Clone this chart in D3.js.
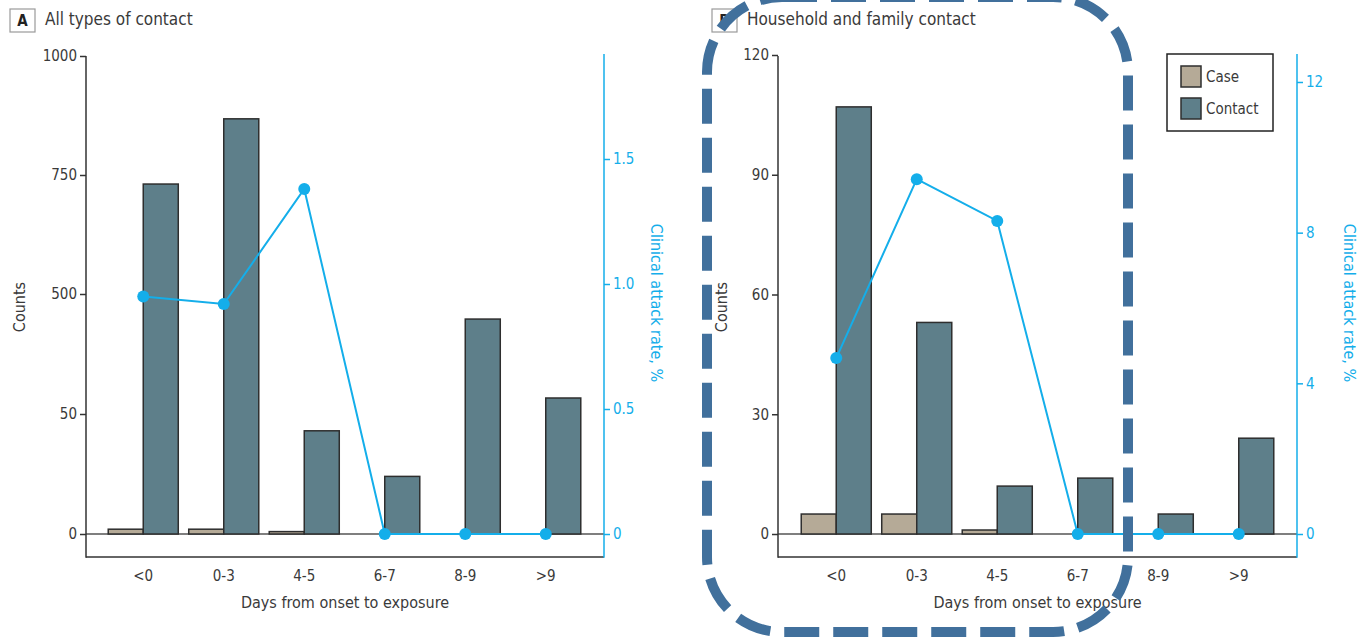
<!DOCTYPE html>
<html>
<head>
<meta charset="utf-8">
<script src="https://cdn.jsdelivr.net/npm/d3@7"></script>
<style>
  html, body { margin: 0; padding: 0; background: #fff; }
  svg { display: block; }
  text { font-family: "Liberation Sans Narrow", "DejaVu Sans Condensed", "Open Sans", sans-serif; }
</style>
</head>
<body>
<svg id="chart" width="1358" height="637"></svg>
<script>
// ---------- data ----------
const categories = ["<0", "0-3", "4-5", "6-7", "8-9", ">9"];
const seriesNames = ["Case", "Contact"];

const caseA = [2, 2, 1, 0, 0, 0];
const contactA = [731, 868, 43, 24, 406, 110];
const rateA = [0.95, 0.92, 1.38, 0, 0, 0];

const caseB = [5, 5, 1, 0, 0, 0];
const contactB = [107, 53, 12, 14, 5, 24];
const rateB = [4.67, 9.42, 8.31, 0, 0, 0];

const countTicksA = [0, 50, 500, 750, 1000];
const rateTicksA = [0, 0.5, 1.0, 1.5];
const countTicksB = [0, 30, 60, 90, 120];
const rateTicksB = [0, 4, 8, 12];

const titleA = "All types of contact";
const titleB = "Household and family contact";
const xTitle = "Days from onset to exposure";
const yTitle = "Counts";
const y2Title = "Clinical attack rate, %";

// ---------- style ----------
const COL_CASE = "#b5aa97";
const COL_CONTACT = "#5e7f8a";
const COL_BLUE = "#14aeea";
const COL_TEXT = "#3a3a3a";
const COL_AXIS = "#333";

const svg = d3.select("#chart");

function drawPanel(p) {
  const g = svg.append("g");
  const top = 56, zeroY = 534, bottom = 557;

  // x scales
  const x = d3.scaleBand().domain(categories)
    .range([p.xStart, p.xEnd]).paddingInner(0.13).paddingOuter(0.065);
  const x1 = d3.scaleBand().domain(seriesNames).range([0, x.bandwidth()]);

  // y scales
  const y = d3.scaleLinear().domain(p.countDomain).range(p.countRange);
  const y2 = d3.scaleLinear().domain([0, p.rateMax]).range([zeroY, top]);

  // frame: bottom line
  g.append("line").attr("x1", p.left).attr("x2", p.right)
    .attr("y1", bottom).attr("y2", bottom)
    .attr("stroke", COL_AXIS).attr("stroke-width", 1.5);

  // baseline at zero
  g.append("line").attr("x1", p.left).attr("x2", p.right)
    .attr("y1", y(0)).attr("y2", y(0))
    .attr("stroke", "#555").attr("stroke-width", 1.5);

  // left axis
  const la = g.append("g").attr("transform", `translate(${p.left},0)`)
    .call(d3.axisLeft(y).tickValues(p.countTicks).tickSize(6).tickPadding(3).tickFormat(d3.format("d")));
  la.select(".domain").remove();
  la.selectAll(".tick line").attr("stroke", COL_AXIS).attr("stroke-width", 1.5);
  la.selectAll(".tick text").attr("fill", COL_TEXT).style("font-size", "15px");
  g.append("line").attr("x1", p.left).attr("x2", p.left)
    .attr("y1", top).attr("y2", bottom + 0.75)
    .attr("stroke", COL_AXIS).attr("stroke-width", 1.5);

  // right axis
  const ra = g.append("g").attr("transform", `translate(${p.right},0)`)
    .call(d3.axisRight(y2).tickValues(p.rateTicks).tickSize(6).tickPadding(3).tickFormat(p.rateFormat));
  ra.select(".domain").remove();
  ra.selectAll(".tick line").attr("stroke", COL_BLUE).attr("stroke-width", 1.5);
  ra.selectAll(".tick text").attr("fill", COL_BLUE).style("font-size", "15px");
  g.append("line").attr("x1", p.right).attr("x2", p.right)
    .attr("y1", top - 2).attr("y2", bottom + 0.75)
    .attr("stroke", COL_BLUE).attr("stroke-width", 1.5);

  // bars
  const rows = categories.map((c, i) => ({ c, vals: [p.cases[i], p.contacts[i]] }));
  const grp = g.append("g").selectAll("g").data(rows).join("g")
    .attr("transform", d => `translate(${x(d.c)},0)`);
  grp.selectAll("rect").data(d => d.vals.map((v, j) => ({ key: seriesNames[j], v })))
    .join("rect")
    .attr("x", d => x1(d.key))
    .attr("width", x1.bandwidth())
    .attr("y", d => y(d.v))
    .attr("height", d => y(0) - y(d.v))
    .attr("fill", d => d.key === "Case" ? COL_CASE : COL_CONTACT)
    .attr("stroke", "#2e2e2e").attr("stroke-width", 1.5);

  // x labels
  g.append("g").selectAll("text").data(categories).join("text")
    .attr("x", d => x(d) + x.bandwidth() / 2).attr("y", 581)
    .attr("text-anchor", "middle").attr("fill", COL_TEXT).style("font-size", "15px")
    .text(d => d);

  // line + points
  const pts = categories.map((c, i) => [x(c) + x.bandwidth() / 2, y2(p.rates[i])]);
  g.append("path").attr("d", d3.line()(pts))
    .attr("fill", "none").attr("stroke", COL_BLUE).attr("stroke-width", 2);
  g.append("g").selectAll("circle").data(pts).join("circle")
    .attr("cx", d => d[0]).attr("cy", d => d[1]).attr("r", 6)
    .attr("fill", COL_BLUE);

  // axis titles
  g.append("text").attr("x", (p.left + p.right) / 2).attr("y", 608)
    .attr("text-anchor", "middle").attr("fill", COL_TEXT).style("font-size", "16px")
    .text(xTitle);
  g.append("text").attr("transform", `translate(${p.yTitleX},307) rotate(-90)`)
    .attr("text-anchor", "middle").attr("fill", COL_TEXT).style("font-size", "16px")
    .text(yTitle);
  g.append("text").attr("transform", `translate(${p.y2TitleX},303) rotate(90)`)
    .attr("text-anchor", "middle").attr("fill", COL_BLUE).style("font-size", "16px")
    .text(y2Title);

  // panel title
  g.append("rect").attr("x", p.boxX).attr("y", 9).attr("width", 25).attr("height", 23)
    .attr("fill", "#fff").attr("stroke", "#9a9a9a").attr("stroke-width", 1.2);
  g.append("text").attr("x", p.boxX + 12.5).attr("y", 26).attr("text-anchor", "middle")
    .attr("fill", "#222").style("font-size", "15px").style("font-weight", "bold").text(p.letter);
  g.append("text").attr("x", p.boxX + 35).attr("y", 25)
    .attr("fill", COL_TEXT).style("font-size", "17px").text(p.title);

  return { x, y };
}

drawPanel({
  letter: "A", title: titleA, boxX: 10,
  left: 86, right: 604, xStart: 103, xEnd: 586,
  countDomain: countTicksA, countRange: [534, 414, 294, 175, 56],
  countTicks: countTicksA, rateTicks: rateTicksA, rateMax: 1.912,
  rateFormat: d => d === 0 ? "0" : d3.format(".1f")(d),
  cases: caseA, contacts: contactA, rates: rateA, yTitleX: 25, y2TitleX: 651
});

drawPanel({
  letter: "B", title: titleB, boxX: 712,
  left: 778, right: 1297, xStart: 796, xEnd: 1279,
  countDomain: [0, 120], countRange: [534, 55],
  countTicks: countTicksB, rateTicks: rateTicksB, rateMax: 12.69,
  rateFormat: d3.format("d"),
  cases: caseB, contacts: contactB, rates: rateB, yTitleX: 727, y2TitleX: 1344
});

// legend (panel B)
const lg = svg.append("g").attr("transform", "translate(1167,54)");
lg.append("rect").attr("width", 106).attr("height", 77)
  .attr("fill", "#fff").attr("stroke", "#222").attr("stroke-width", 1.5);
seriesNames.forEach((s, i) => {
  lg.append("rect").attr("x", 14).attr("y", 12 + i * 32).attr("width", 20).attr("height", 21)
    .attr("fill", s === "Case" ? COL_CASE : COL_CONTACT).attr("stroke", "#2e2e2e").attr("stroke-width", 1.5);
  lg.append("text").attr("x", 39).attr("y", 28 + i * 32).attr("fill", COL_TEXT)
    .style("font-size", "15px").text(s);
});

// dashed highlight annotation
svg.append("rect").attr("x", 707).attr("y", -3).attr("width", 421).attr("height", 635)
  .attr("rx", 75).attr("ry", 75)
  .attr("fill", "none").attr("stroke", "#41709c").attr("stroke-width", 10)
  .attr("stroke-dasharray", "35 14");
</script>
</body>
</html>
